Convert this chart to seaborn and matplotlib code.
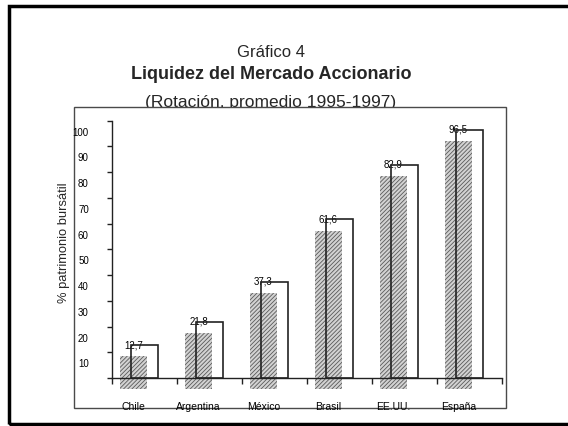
import matplotlib
matplotlib.use("Agg")
import matplotlib.pyplot as plt
import matplotlib.transforms as mtransforms
from matplotlib.patches import Rectangle
import numpy as np
import pandas as pd
import seaborn as sns

# ---- data ----
categories = ["Chile", "Argentina", "México", "Brasil", "EE.UU.", "España"]
values = [12.7, 21.8, 37.3, 61.6, 82.9, 96.5]
value_labels = ["12,7", "21,8", "37,3", "61,6", "82,9", "96,5"]
y_ticks = [0, 10, 20, 30, 40, 50, 60, 70, 80, 90, 100]
y_tick_labels = ["", "10", "20", "30", "40", "50", "60", "70", "80", "90", "100"]

title_1 = "Gráfico 4"
title_2 = "Liquidez del Mercado Accionario"
title_3 = "(Rotación, promedio 1995-1997)"
y_label = "% patrimonio bursátil"

# ---- style ----
sns.set_style("white")
plt.rcParams["font.family"] = ["Liberation Sans", "DejaVu Sans"]
plt.rcParams["hatch.linewidth"] = 0.6

W, H = 568, 426
fig = plt.figure(figsize=(W / 100, H / 100), dpi=100)


def fx(px):
    return px / W


def fy(py):
    return 1 - py / H


# outer slide frame (right side runs off the picture)
fig.add_artist(Rectangle((fx(9), fy(424)), 1.2, fy(6) - fy(424),
                         transform=fig.transFigure, fill=False,
                         edgecolor="black", linewidth=2.5, zorder=1,
                         clip_on=False))

# titles
fig.text(fx(271), fy(57), title_1, ha="center", va="baseline",
         fontsize=12, zorder=3)
fig.text(fx(271), fy(79), title_2, ha="center", va="baseline",
         fontsize=13, fontweight="bold", zorder=3)
fig.text(fx(271), fy(107.5), title_3, ha="center", va="baseline",
         fontsize=12.5, zorder=3)

# inner chart box (white, covers the bottom of the subtitle)
fig.add_artist(Rectangle((fx(74), fy(408)), fx(506) - fx(74), fy(107) - fy(408),
                         transform=fig.transFigure, facecolor="white",
                         edgecolor="#4a4a4a", linewidth=1.0, zorder=4))

ax = fig.add_axes([fx(112), fy(393.4), fx(502) - fx(112), fy(118.1) - fy(393.4)])
ax.set_zorder(5)
ax.patch.set_visible(False)

df = pd.DataFrame({"pos": np.arange(len(categories)), "valor": values,
                   "pais": categories})
shift_x = 0.17   # shadow offset (category units)
shift_y = 4.3    # shadow offset (value units)
df["pos_sombra"] = df["pos"] - shift_x

# hatched shadow bars
sns.barplot(data=df, x="pos_sombra", y="valor", native_scale=True,
            width=0.415, errorbar=None, bottom=-shift_y,
            facecolor="#d2d2d2", edgecolor="#5a5a5a", linewidth=0,
            hatch="////////", zorder=1, ax=ax)

# outline boxes
sns.barplot(data=df, x="pos", y="valor", native_scale=True,
            width=0.415, errorbar=None, fill=False, color="#222222",
            linewidth=1.2, zorder=3, ax=ax)

# value labels
for i, (v, lab) in enumerate(zip(values, value_labels)):
    ax.text(i - shift_x, v, lab, ha="center", va="center", fontsize=7,
            color="black", zorder=2.5)

ax.set_xlim(-0.5, 5.5)
ax.set_ylim(-6, 101)

for s in ["top", "right"]:
    ax.spines[s].set_visible(False)
ax.spines["left"].set_bounds(0, 100)
ax.spines["bottom"].set_position(("data", 0))
ax.spines["bottom"].set_bounds(-0.5, 5.5)
for s in ["left", "bottom"]:
    ax.spines[s].set_color("#222222")
    ax.spines[s].set_linewidth(1.0)

ax.set_xticks(np.arange(-0.5, len(categories), 1.0))
ax.set_xticklabels([])
ax.tick_params(axis="x", which="major", bottom=True, direction="out",
               length=4, width=1, color="#222222")

ax.set_yticks(y_ticks)
ax.set_yticklabels(y_tick_labels)
ax.tick_params(axis="y", which="major", left=True, direction="out", length=3.5,
               width=1, color="#222222", pad=13.2, labelsize=7,
               labelcolor="black")
off = mtransforms.ScaledTranslation(0, -0.11, fig.dpi_scale_trans)
for lab in ax.get_yticklabels():
    lab.set_transform(lab.get_transform() + off)

# category labels
blend = mtransforms.blended_transform_factory(ax.transData, ax.transAxes)
for i, c in enumerate(categories):
    ax.text(i - shift_x, -0.0494, c, transform=blend, ha="center", va="center",
            fontsize=7.5, color="black")

ax.set_xlabel("")
ax.set_ylabel(y_label, fontsize=9.3)
ax.yaxis.set_label_coords(-0.107, 0.546)

fig.savefig("out.png", dpi=100)
